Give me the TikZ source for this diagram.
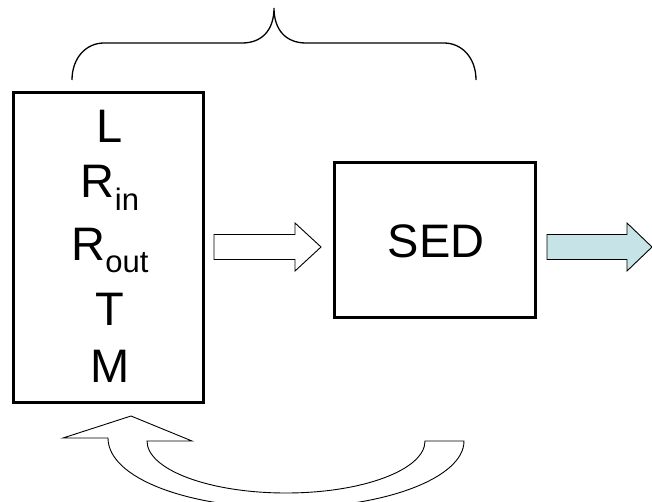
\documentclass[tikz,border=0pt]{standalone}
\usepackage{fontspec}
\setmainfont{Liberation Sans}
\definecolor{arrowblue}{RGB}{198,228,231}
\begin{document}
\begin{tikzpicture}[x=1pt,y=-1pt,
  box/.style={draw=black,line width=3pt,fill=none,inner sep=0pt},
  big/.style={font=\fontsize{47}{50}\selectfont,inner sep=0pt},
  blockarrow/.style={draw=black,line width=0.9pt,line join=miter},
  bracestyle/.style={draw=black,line width=1.3pt}]
\useasboundingbox (0,0) rectangle (652,502);
\clip (0,0) rectangle (652,502);
% boxes
\node[box,minimum width=190pt,minimum height=309pt] (lb) at (108,247.5) {};
\node[box,minimum width=201pt,minimum height=154pt] (sed) at (434.5,240) {};
\node[big] (sedtext) at (436,241.5) {SED};
% parameter texts
\newcommand{\subtxt}[1]{\raisebox{-12.5pt}{\fontsize{31}{31}\selectfont #1}}
\node[big,anchor=base] (pL) at (110,143) {L};
\node[big,anchor=base] (pRin) at (110,198) {R\subtxt{in}};
\node[big,anchor=base] (pRout) at (110,260) {R\subtxt{out}};
\node[big,anchor=base] (pT) at (110,325) {T};
\node[big,anchor=base] (pM) at (110,382) {M};
% brace
\draw[bracestyle] (72,80) .. controls (72,58) and (86,43) .. (104,43) -- (242,43)
  .. controls (262,43) and (274,30) .. (274,8)
  .. controls (274,30) and (286,43) .. (306,43) -- (444,43)
  .. controls (462,43) and (476,58) .. (476,80);
% white arrow
\draw[blockarrow,fill=white] (214,234.5) -- (295,234.5) -- (295,223) -- (321,247) -- (295,271) -- (295,259.5) -- (214,259.5) -- cycle;
% blue arrow
\draw[blockarrow,fill=arrowblue] (547,234.5) -- (627,234.5) -- (627,223) -- (652,247) -- (627,271) -- (627,259.5) -- (547,259.5) -- cycle;
% curved return arrow
\draw[blockarrow,fill=white] (63,438) -- (131,416) -- (192,441) -- (147,441)
  .. controls (147,469.7) and (209.2,493) .. (286,493)
  .. controls (362.8,493) and (425,469.7) .. (425,441)
  -- (464,441)
  .. controls (464,478) and (384.3,508) .. (286,508)
  .. controls (187.7,508) and (108,478) .. (108,438)
  -- cycle;
\end{tikzpicture}
\end{document}
